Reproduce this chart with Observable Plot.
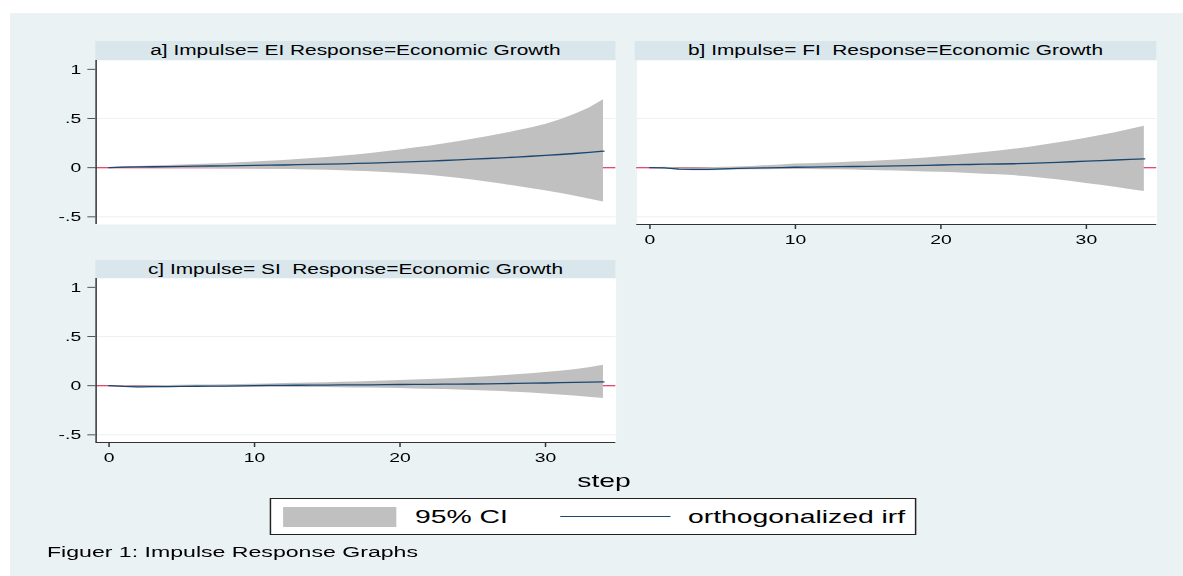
<!DOCTYPE html>
<html><head><meta charset="utf-8">
<script src="https://cdn.jsdelivr.net/npm/d3@7"></script>
<script src="https://cdn.jsdelivr.net/npm/@observablehq/plot@0.6"></script>
<style>
html,body{margin:0;padding:0;background:#fff;}
body{width:1183px;height:576px;overflow:hidden;position:relative;font-family:"Liberation Sans",Arial,sans-serif;}
#bg{position:absolute;left:10px;top:13px;right:0;bottom:0;background:#eaf2f3;}
#stage{position:absolute;left:0;top:0;height:576px;transform-origin:0 0;}
.hdr{position:absolute;background:#d9e6eb;color:#000;font-size:14px;text-align:center;white-space:pre;}
.abs{position:absolute;white-space:pre;color:#000;}
.plotbox{position:absolute;}
</style></head><body>
<div id="bg"></div>
<div id="stage"></div>
<script>
// ---- data ----
const steps = d3.range(0, 35);
const titles = ["a] Impulse= EI Response=Economic Growth", "b] Impulse= FI  Response=Economic Growth", "c] Impulse= SI  Response=Economic Growth"];
const yTicks = [-0.5, 0, 0.5, 1];
const xTicks = [0, 10, 20, 30];
const legendLabels = ["95% CI", "orthogonalized irf"];
const xLabel = "step";
const captionText = "Figuer 1: Impulse Response Graphs";

const irfA = [0,.006,.008,.009,.011,.013,.015,.017,.019,.021,.023,.025,.027,.030,.033,.036,.039,.043,.047,.051,.056,.061,.067,.073,.079,.086,.093,.100,.108,.116,.125,.134,.144,.155,.168];
const hiA  = [0,.008,.012,.016,.021,.026,.031,.037,.043,.050,.058,.065,.072,.082,.092,.103,.115,.130,.145,.162,.180,.199,.219,.240,.263,.288,.314,.342,.372,.404,.440,.485,.540,.605,.690];
const loA  = [0,-.002,-.003,-.004,-.005,-.006,-.007,-.008,-.010,-.012,-.013,-.015,-.017,-.020,-.023,-.027,-.031,-.036,-.042,-.049,-.056,-.066,-.078,-.092,-.108,-.126,-.146,-.167,-.189,-.212,-.236,-.261,-.288,-.318,-.350];

const irfB = [0,-.002,-.015,-.018,-.017,-.012,-.008,-.005,-.002,.001,.004,.006,.008,.010,.012,.014,.016,.018,.021,.024,.027,.030,.032,.035,.037,.040,.044,.049,.054,.060,.066,.072,.078,.084,.090];
const hiB  = [0,.003,-.004,-.004,-.002,.003,.008,.013,.020,.028,.036,.041,.046,.051,.057,.063,.070,.078,.087,.098,.110,.124,.138,.153,.169,.186,.206,.228,.251,.275,.300,.327,.356,.387,.420];
const loB  = [0,-.006,-.026,-.032,-.032,-.028,-.024,-.022,-.020,-.018,-.017,-.018,-.020,-.022,-.025,-.028,-.031,-.035,-.039,-.043,-.047,-.053,-.059,-.066,-.073,-.081,-.093,-.107,-.123,-.141,-.160,-.180,-.200,-.221,-.243];

const irfC = [0,-.008,-.013,-.010,-.009,-.008,-.006,-.005,-.004,-.002,.000,.002,.003,.004,.005,.006,.007,.008,.009,.011,.012,.013,.014,.015,.016,.017,.019,.021,.023,.025,.027,.030,.033,.036,.038];
const hiC  = [0,-.002,-.003,.000,.002,.004,.006,.008,.010,.012,.015,.018,.021,.024,.027,.030,.034,.038,.042,.047,.052,.057,.063,.069,.076,.083,.091,.100,.110,.121,.133,.147,.163,.183,.207];
const loC  = [0,-.014,-.024,-.021,-.020,-.019,-.018,-.017,-.017,-.016,-.016,-.016,-.016,-.017,-.018,-.019,-.021,-.023,-.025,-.027,-.030,-.033,-.036,-.040,-.044,-.049,-.054,-.060,-.067,-.075,-.084,-.094,-.105,-.117,-.130];

// ---- layout (the reference is a horizontally stretched Stata graph) ----
const S = 1.49;
const stage = document.getElementById("stage");
stage.style.width = (1183 / S) + "px";
stage.style.transform = `scaleX(${S})`;
const X = px => px / S;

const C = {ci: "#c0c0c0", irf: "#1a476f", zero: "#d4103c", grid: "#eaf2f3", axis: "#333"};
const xDomain = [-0.89, 34.85];
const yDomain = [-0.578, 1.09];
const fmt = d => d === 0 ? "0" : String(d).replace(/^(-?)0\./, "$1.");

const panels = [
  {title: titles[0], irf: irfA, lo: loA, hi: hiA, x0: 96, y0: 41, yAxis: true, xAxis: false},
  {title: titles[1], irf: irfB, lo: loB, hi: hiB, x0: 636, y0: 41, yAxis: false, xAxis: true},
  {title: titles[2], irf: irfC, lo: loC, hi: hiC, x0: 96, y0: 259.5, yAxis: true, xAxis: true}
];
const PW = 520, HH = 18.5, PH = 164;

for (const p of panels) {
  const h = document.createElement("div");
  h.className = "hdr";
  h.textContent = p.title;
  Object.assign(h.style, {left: X(p.x0 - 1) + "px", top: p.y0 + "px", width: X(PW + 1) + "px", height: HH + "px", lineHeight: HH + "px"});
  stage.appendChild(h);

  const data = steps.map((s, i) => ({step: s, irf: p.irf[i], lo: p.lo[i], hi: p.hi[i]}));
  const mL = p.yAxis ? 40 : 0, mB = p.xAxis ? 30 : 0;
  const marks = [
    Plot.frame({fill: "white", stroke: "none"}),
    Plot.ruleY(yTicks.filter(t => t !== 0 && t !== 1), {stroke: C.grid, strokeWidth: 1}),
    Plot.ruleY([0], {stroke: C.zero, strokeWidth: 1}),
    Plot.areaY(data, {x: "step", y1: "lo", y2: "hi", fill: C.ci, curve: "linear"}),
    Plot.line(data, {x: "step", y: "irf", stroke: C.irf, strokeWidth: 1.3})
  ];
  if (p.yAxis) {
    marks.push(Plot.ruleX([xDomain[0]], {stroke: C.axis, strokeWidth: 1}));
    marks.push(Plot.axisY(yTicks, {tickFormat: fmt, tickSize: 5.4, tickPadding: 4.6, stroke: "#555", fill: "#000", label: null, fontSize: 13}));
  }
  if (p.xAxis) {
    marks.push(Plot.ruleY([yDomain[0]], {stroke: C.axis, strokeWidth: 1}));
    marks.push(Plot.axisX(xTicks, {tickSize: 5, tickPadding: 5, stroke: "#333", fill: "#000", label: null, fontSize: 13}));
  }
  const chart = Plot.plot({
    width: X(PW) + mL, height: PH + mB,
    marginLeft: mL, marginRight: 0, marginTop: 0, marginBottom: mB,
    x: {domain: xDomain, axis: p.xAxis ? undefined : null},
    y: {domain: yDomain, axis: p.yAxis ? undefined : null},
    style: {background: "transparent", fontFamily: "'Liberation Sans', Arial, sans-serif", fontSize: "13px", color: "#000", overflow: "visible", maxWidth: "none"},
    marks
  });
  const box = document.createElement("div");
  box.className = "plotbox";
  Object.assign(box.style, {left: (X(p.x0) - mL) + "px", top: (p.y0 + HH) + "px"});
  box.appendChild(chart);
  stage.appendChild(box);
}

// x label
const st = document.createElement("div");
st.className = "abs";
st.textContent = xLabel;
Object.assign(st.style, {left: X(604) + "px", top: "470px", fontSize: "19px", transform: "translateX(-50%)"});
stage.appendChild(st);

// legend
const lg = document.createElement("div");
Object.assign(lg.style, {position: "absolute", left: X(270) + "px", top: "498px", width: X(647) + "px", height: "37px", background: "#fff", border: "1px solid #222", boxSizing: "border-box"});
stage.appendChild(lg);
const sw = document.createElement("div");
Object.assign(sw.style, {position: "absolute", left: X(283) + "px", top: "507px", width: X(114) + "px", height: "20px", background: C.ci});
stage.appendChild(sw);
const t1 = document.createElement("div");
t1.className = "abs"; t1.textContent = legendLabels[0];
Object.assign(t1.style, {left: X(415) + "px", top: "505px", fontSize: "19px", lineHeight: "24px"});
stage.appendChild(t1);
const ln = document.createElement("div");
Object.assign(ln.style, {position: "absolute", left: X(560) + "px", top: "516px", width: X(110) + "px", height: "0px", borderTop: "1.5px solid " + C.irf});
stage.appendChild(ln);
const t2 = document.createElement("div");
t2.className = "abs"; t2.textContent = legendLabels[1];
Object.assign(t2.style, {left: X(688) + "px", top: "505px", fontSize: "19px", lineHeight: "24px"});
stage.appendChild(t2);

// caption
const cap = document.createElement("div");
cap.className = "abs"; cap.textContent = captionText;
Object.assign(cap.style, {left: X(47) + "px", top: "543px", fontSize: "15.5px", lineHeight: "18px"});
stage.appendChild(cap);
</script></body></html>
